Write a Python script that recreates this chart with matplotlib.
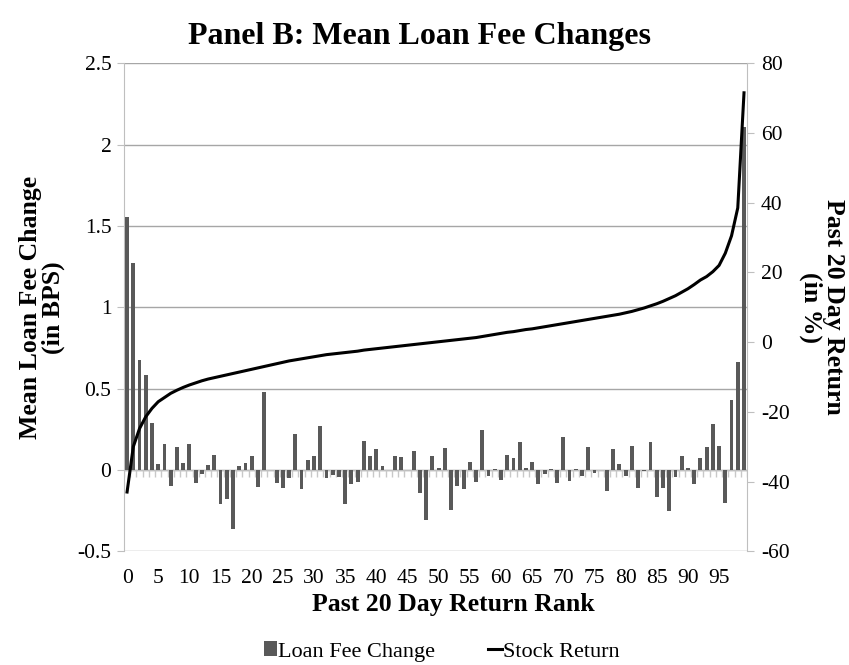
import matplotlib
matplotlib.use("Agg")
import matplotlib.pyplot as plt
import numpy as np

plt.rcParams['font.family'] = ['Liberation Serif', 'DejaVu Serif']
plt.rcParams['axes.unicode_minus'] = False

# rank 0..99
ranks = list(range(100))

# mean loan fee change (bps), left axis
fee_change = [
    1.553, 1.273, 0.678, 0.584, 0.287, 0.039, 0.162, -0.096, 0.143, 0.041,
    0.160, -0.082, -0.025, 0.031, 0.090, -0.211, -0.178, -0.360, 0.023, 0.043,
    0.084, -0.107, 0.480, 0.000, -0.082, -0.113, -0.047, 0.221, -0.119, 0.061,
    0.088, 0.270, -0.047, -0.031, -0.045, -0.209, -0.086, -0.076, 0.176, 0.088,
    0.127, 0.023, 0.000, 0.084, 0.078, 0.000, 0.115, -0.143, -0.307, 0.086,
    0.010, 0.135, -0.246, -0.096, -0.115, 0.047, -0.072, 0.246, -0.037, 0.006,
    -0.061, 0.094, 0.074, 0.174, 0.010, 0.047, -0.086, -0.027, 0.005, -0.078,
    0.203, -0.066, 0.006, -0.037, 0.143, -0.016, 0.000, -0.127, 0.127, 0.037,
    -0.035, 0.145, -0.111, -0.005, 0.170, -0.166, -0.111, -0.250, -0.041, 0.088,
    0.010, -0.088, 0.074, 0.139, 0.285, 0.145, -0.205, 0.430, 0.662, 2.109,
]

# past 20 day return (%), right axis
stock_return = [
    -43.0, -30.0, -24.8, -21.4, -19.0, -17.1, -15.9, -14.7, -13.8, -13.0,
    -12.3, -11.7, -11.1, -10.6, -10.2, -9.8, -9.4, -9.0, -8.6, -8.2,
    -7.8, -7.4, -7.0, -6.6, -6.2, -5.8, -5.4, -5.1, -4.8, -4.5,
    -4.2, -3.9, -3.6, -3.4, -3.2, -3.0, -2.8, -2.6, -2.3, -2.1,
    -1.9, -1.7, -1.5, -1.3, -1.1, -0.9, -0.7, -0.5, -0.3, -0.1,
    0.1, 0.3, 0.5, 0.7, 0.9, 1.1, 1.3, 1.6, 1.9, 2.2,
    2.5, 2.8, 3.0, 3.3, 3.6, 3.8, 4.1, 4.4, 4.7, 5.0,
    5.3, 5.6, 5.9, 6.2, 6.5, 6.8, 7.1, 7.4, 7.7, 8.0,
    8.4, 8.8, 9.3, 9.8, 10.4, 11.0, 11.7, 12.5, 13.3, 14.3,
    15.3, 16.5, 17.8, 18.8, 20.2, 22.0, 25.5, 30.5, 38.5, 71.5,
]

left_ticks = [-0.5, 0, 0.5, 1, 1.5, 2, 2.5]
left_labels = ['-0.5', '0', '0.5', '1', '1.5', '2', '2.5']
right_ticks = [-60, -40, -20, 0, 20, 40, 60, 80]
x_ticks = list(range(0, 100, 5))

grid_c = '#a6a6a6'
axis_c = '#bfbfbf'
tick_fs = 15.5
label_fs = 18.5

fig = plt.figure(figsize=(8.49, 6.65), dpi=100)
ax = fig.add_axes([0.146, 0.171, 0.734, 0.734])

ax.bar(ranks, fee_change, width=0.62, color='#595959', zorder=3, label='Loan Fee Change')
ax.set_xlim(-0.5, len(ranks) - 0.5)
ax.set_ylim(-0.5, 2.5)
ax.set_yticks(left_ticks)
ax.set_yticklabels(left_labels)
ax.yaxis.grid(True, color=grid_c, linewidth=1.0, zorder=0)
ax.set_axisbelow(True)

# category axis at zero with small ticks between categories
ax.axhline(0, color=axis_c, linewidth=1.0, zorder=2)
ax.vlines(np.arange(len(ranks) + 1) - 0.5, -0.045, 0, color='#c8c8c8', linewidth=1.0, zorder=2)

ax.set_xticks(x_ticks)
ax.tick_params(axis='x', length=0, pad=13, labelsize=tick_fs)
ax.tick_params(axis='y', length=5, color=axis_c, labelsize=tick_fs, pad=4)
for s in ['top', 'bottom', 'right']:
    ax.spines[s].set_visible(False)
ax.spines['left'].set_color(axis_c)

ax.set_ylabel('Mean Loan Fee Change\n(in BPS)', fontsize=label_fs, fontweight='bold', labelpad=9,
              linespacing=1.0)
ax.set_xlabel('Past 20 Day Return Rank', fontsize=label_fs, fontweight='bold', labelpad=3)
ax.xaxis.label.set_x(0.528)
ax.set_title('Panel B: Mean Loan Fee Changes', fontsize=23, fontweight='bold', pad=14)
ax.title.set_x(0.474)

ax2 = ax.twinx()
ax2.plot(ranks, stock_return, color='black', linewidth=2.2, label='Stock Return')
ax2.set_ylim(-60, 80)
ax2.set_yticks(right_ticks)
ax2.tick_params(axis='y', length=5, color=axis_c, labelsize=tick_fs, pad=5)
for s in ['top', 'bottom', 'left']:
    ax2.spines[s].set_visible(False)
ax2.spines['right'].set_color(axis_c)
ax2.set_ylabel('Past 20 Day Return\n(in %)', fontsize=label_fs, fontweight='bold', rotation=270,
               labelpad=40, linespacing=1.0)

h1, l1 = ax.get_legend_handles_labels()
h2, l2 = ax2.get_legend_handles_labels()
fig.legend(h1 + h2, l1 + l2, loc='lower center', bbox_to_anchor=(0.52, -0.025), ncol=2,
           frameon=False, fontsize=16, handlelength=0.6, handleheight=0.65,
           handletextpad=0.05, columnspacing=2.4)

fig.savefig('out.png', dpi=100)
